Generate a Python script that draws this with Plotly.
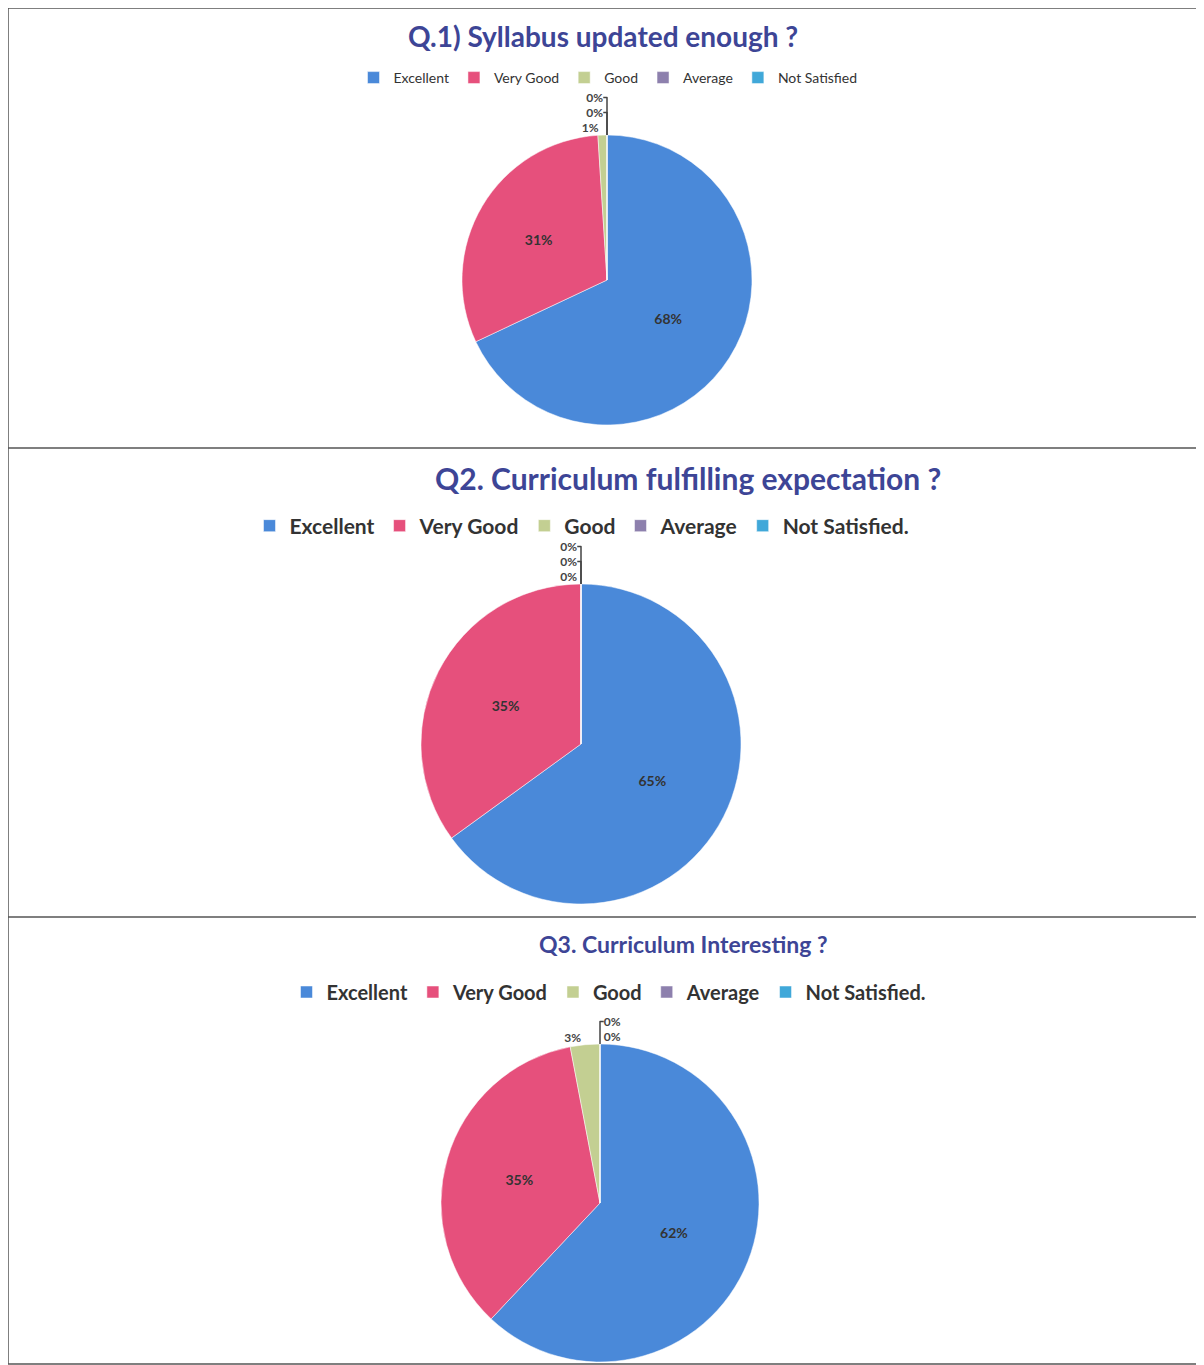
import plotly.graph_objects as go

categories_q1 = ["Excellent", "Very Good", "Good", "Average", "Not Satisfied"]
categories_q2 = ["Excellent", "Very Good", "Good", "Average", "Not Satisfied."]
categories_q3 = ["Excellent", "Very Good", "Good", "Average", "Not Satisfied."]
q1_values = [68, 31, 1, 0, 0]
q2_values = [65, 35, 0, 0, 0]
q3_values = [62, 35, 3, 0, 0]
titles = ["Q.1) Syllabus updated enough ?",
          "Q2. Curriculum fulfilling expectation ?",
          "Q3. Curriculum Interesting ?"]

colors = ["#4a89d9", "#e6507c", "#c3cf92", "#8d80ad", "#40a8d9"]
W, H = 1204, 1365
OFF = 8  # page body margin
FONT = "Lato"
TITLE_COLOR = "#3d4596"


def px(x):
    return min(max((x - OFF) / W, 0), 1)


def py(y):
    return min(max(1 - (y - OFF) / H, 0), 1)


fig = go.Figure()

# (labels, values, legend id, unique suffix, domain x page px, domain y page px)
pies = [
    (categories_q1, q1_values, "legend", "", (462, 752), (135, 425)),
    (categories_q2, q2_values, "legend2", "\u200b", (421, 741), (584, 904)),
    (categories_q3, q3_values, "legend3", "\u200b\u200b", (440, 760), (1044, 1362)),
]
for labs, vals, leg, suf, dx, dy in pies:
    tp = ["inside" if v >= 5 else "outside" for v in vals]
    fig.add_trace(go.Pie(
        labels=[l + suf for l in labs], values=vals, sort=False,
        direction="clockwise", rotation=0,
        marker=dict(colors=colors, line=dict(color="white", width=0.5)),
        texttemplate="<b>%{percent:.0%}</b>", textposition=tp,
        insidetextorientation="horizontal",
        textfont=dict(family=FONT, size=14, color="#333333"),
        outsidetextfont=dict(family=FONT, size=12, color="#444444"),
        showlegend=True, legend=leg,
        domain=dict(x=[px(dx[0]), px(dx[1])], y=[py(dy[1]), py(dy[0])]),
    ))

for t, (x, y, s) in zip(titles, [(603, 36, 28), (688, 478, 30), (683, 944, 23)]):
    fig.add_annotation(text=f"<b>{t}</b>", x=px(x), y=py(y), xref="paper", yref="paper",
                       showarrow=False, xanchor="center", yanchor="middle",
                       font=dict(family=FONT, size=s, color=TITLE_COLOR))

fig.update_layout(
    width=W, height=H, margin=dict(l=0, r=0, t=0, b=0),
    paper_bgcolor="white", plot_bgcolor="white",
    legend=dict(orientation="h", x=px(608), y=py(78), xanchor="center", yanchor="middle",
                font=dict(family=FONT, size=14, color="#333333"), itemwidth=30,
                traceorder="normal", bgcolor="rgba(0,0,0,0)"),
    legend2=dict(orientation="h", x=px(582), y=py(526), xanchor="center", yanchor="middle",
                 font=dict(family=FONT, size=21, color="#333333", weight="bold"), itemwidth=30,
                 bgcolor="rgba(0,0,0,0)"),
    legend3=dict(orientation="h", x=px(609), y=py(992), xanchor="center", yanchor="middle",
                 font=dict(family=FONT, size=20, color="#333333", weight="bold"), itemwidth=30,
                 bgcolor="rgba(0,0,0,0)"),
    shapes=[
        dict(type="rect", xref="paper", yref="paper", x0=px(6), x1=px(1200), y0=py(1364), y1=py(8),
             line=dict(color="#555555", width=1.5)),
        dict(type="line", xref="paper", yref="paper", x0=px(6), x1=px(1200), y0=py(448), y1=py(448),
             line=dict(color="#555555", width=1.5)),
        dict(type="line", xref="paper", yref="paper", x0=px(6), x1=px(1200), y0=py(917), y1=py(917),
             line=dict(color="#555555", width=1.5)),
    ],
)

fig.write_html("out.html")
